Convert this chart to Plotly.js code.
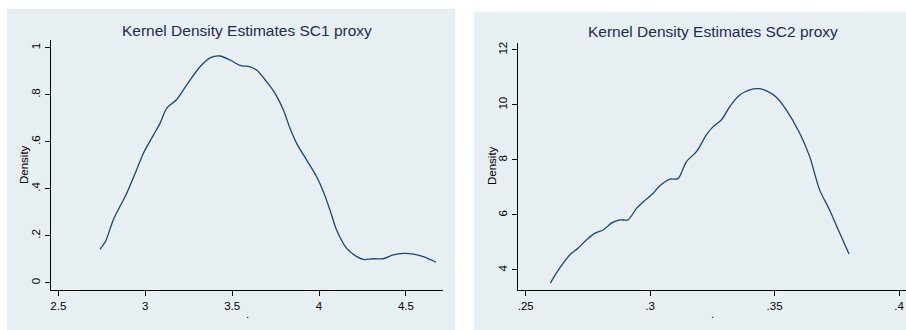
<!DOCTYPE html>
<html>
<head>
<meta charset="utf-8">
<script src="https://cdn.plot.ly/plotly-3.0.1.min.js"></script>
<style>html,body{margin:0;padding:0;background:#fff;}#chart{width:906px;height:330px;}</style>
</head>
<body>
<div id="chart"></div>
<script>
// Panel 1: SC1 proxy kernel density
const sc1X = [2.74, 2.774, 2.816, 2.893, 2.95, 2.989, 3.047, 3.085, 3.123, 3.181, 3.238, 3.315, 3.373, 3.43, 3.488, 3.545, 3.603, 3.641, 3.699, 3.747, 3.795, 3.833, 3.871, 3.929, 3.986, 4.025, 4.063, 4.101, 4.159, 4.217, 4.255, 4.313, 4.37, 4.427, 4.485, 4.543, 4.6, 4.673];
const sc1Y = [0.142, 0.18, 0.267, 0.38, 0.48, 0.55, 0.628, 0.678, 0.742, 0.78, 0.841, 0.919, 0.957, 0.965, 0.948, 0.925, 0.919, 0.905, 0.855, 0.806, 0.735, 0.657, 0.593, 0.522, 0.451, 0.387, 0.309, 0.224, 0.146, 0.111, 0.099, 0.102, 0.102, 0.118, 0.125, 0.122, 0.111, 0.087];
// Panel 2: SC2 proxy kernel density
const sc2X = [0.2599, 0.2623, 0.265, 0.2677, 0.271, 0.2744, 0.2777, 0.2811, 0.2844, 0.2878, 0.2911, 0.2945, 0.2978, 0.3012, 0.3038, 0.3079, 0.3112, 0.3146, 0.3186, 0.3226, 0.3253, 0.3286, 0.332, 0.336, 0.34, 0.344, 0.3474, 0.3507, 0.3547, 0.3601, 0.3641, 0.3681, 0.3721, 0.3762, 0.3799];
const sc2Y = [3.515, 3.88, 4.24, 4.545, 4.79, 5.09, 5.33, 5.45, 5.70, 5.82, 5.82, 6.24, 6.52, 6.79, 7.05, 7.30, 7.32, 7.94, 8.30, 8.91, 9.21, 9.45, 9.94, 10.36, 10.55, 10.59, 10.48, 10.28, 9.82, 8.97, 8.12, 6.91, 6.18, 5.33, 4.58];

const titles = ["Kernel Density Estimates SC1 proxy", "Kernel Density Estimates SC2 proxy"];
const yTitle = "Density";
const xTitle = ".";
const x1Ticks = [2.5, 3, 3.5, 4, 4.5];
const x1Labels = ["2.5", "3", "3.5", "4", "4.5"];
const y1Ticks = [0, 0.2, 0.4, 0.6, 0.8, 1];
const y1Labels = ["0", ".2", ".4", ".6", ".8", "1"];
const x2Ticks = [0.25, 0.3, 0.35, 0.4];
const x2Labels = [".25", ".3", ".35", ".4"];
const y2Ticks = [4, 6, 8, 10, 12];
const y2Labels = ["4", "6", "8", "10", "12"];

const W = 906, H = 330;
const px = v => v / W;
const py = v => 1 - v / H;
const lineColor = "#1a476f";
const bg = "#e8eff2";
const font = "Liberation Sans, Arial, sans-serif";

const traces = [
  {x: sc1X, y: sc1Y, xaxis: "x", yaxis: "y", type: "scatter", mode: "lines",
   line: {color: lineColor, width: 1.3, shape: "spline", smoothing: 0.8}, hoverinfo: "skip"},
  {x: sc2X, y: sc2Y, xaxis: "x2", yaxis: "y2", type: "scatter", mode: "lines",
   line: {color: lineColor, width: 1.3, shape: "spline", smoothing: 0.8}, hoverinfo: "skip"}
];

function xax(domain, range, ticks, labels) {
  return {domain, range, tickmode: "array", tickvals: ticks, ticktext: labels,
    showline: true, linecolor: "#000", linewidth: 1, ticks: "outside", ticklen: 5, tickcolor: "#000",
    showgrid: false, zeroline: false, tickfont: {family: font, size: 11.5, color: "#000"}};
}
function yax(domain, range, ticks, labels, anchor) {
  return {domain, range, anchor, tickmode: "array", tickvals: ticks, ticktext: labels, tickangle: -90,
    showline: true, linecolor: "#000", linewidth: 1, ticks: "outside", ticklen: 5, tickcolor: "#000",
    showgrid: true, gridcolor: "#e6eef1", gridwidth: 1, zeroline: false,
    tickfont: {family: font, size: 11.5, color: "#000"}};
}
function ann(text, x, y, size, color, angle) {
  return {text, xref: "paper", yref: "paper", x: px(x), y: py(y), xanchor: "center", yanchor: "middle",
    showarrow: false, textangle: angle || 0, font: {family: font, size, color}};
}

const layout = {
  width: W, height: H, margin: {l: 0, r: 0, t: 0, b: 0},
  paper_bgcolor: "#fff", plot_bgcolor: "#fff", showlegend: false,
  xaxis: Object.assign(xax([px(51), px(443)], [2.458, 4.713], x1Ticks, x1Labels), {anchor: "y"}),
  yaxis: yax([py(290), py(40)], [-0.031, 1.033], y1Ticks, y1Labels, "x"),
  xaxis2: Object.assign(xax([px(518), 1], [0.2469, 0.4028], x2Ticks, x2Labels), {anchor: "y2"}),
  yaxis2: yax([py(290), py(43)], [3.27, 12.25], y2Ticks, y2Labels, "x2"),
  shapes: [
    {type: "rect", xref: "paper", yref: "paper", x0: px(7), x1: px(455), y0: 0, y1: py(9),
     fillcolor: bg, line: {width: 0}, layer: "below"},
    {type: "rect", xref: "paper", yref: "paper", x0: px(474), x1: 1, y0: 0, y1: py(12),
     fillcolor: bg, line: {width: 0}, layer: "below"}
  ],
  annotations: [
    ann(titles[0], 247, 30, 15.5, "#1e2b4f"),
    ann(titles[1], 713, 32, 15.5, "#1e2b4f"),
    ann(yTitle, 24, 165, 11.5, "#000", -90),
    ann(yTitle, 492, 166, 11.5, "#000", -90),
    ann(xTitle, 247, 314, 11.5, "#000"),
    ann(xTitle, 712, 314, 11.5, "#000")
  ]
};

Plotly.newPlot("chart", traces, layout, {staticPlot: true, displayModeBar: false});
</script>
</body>
</html>
